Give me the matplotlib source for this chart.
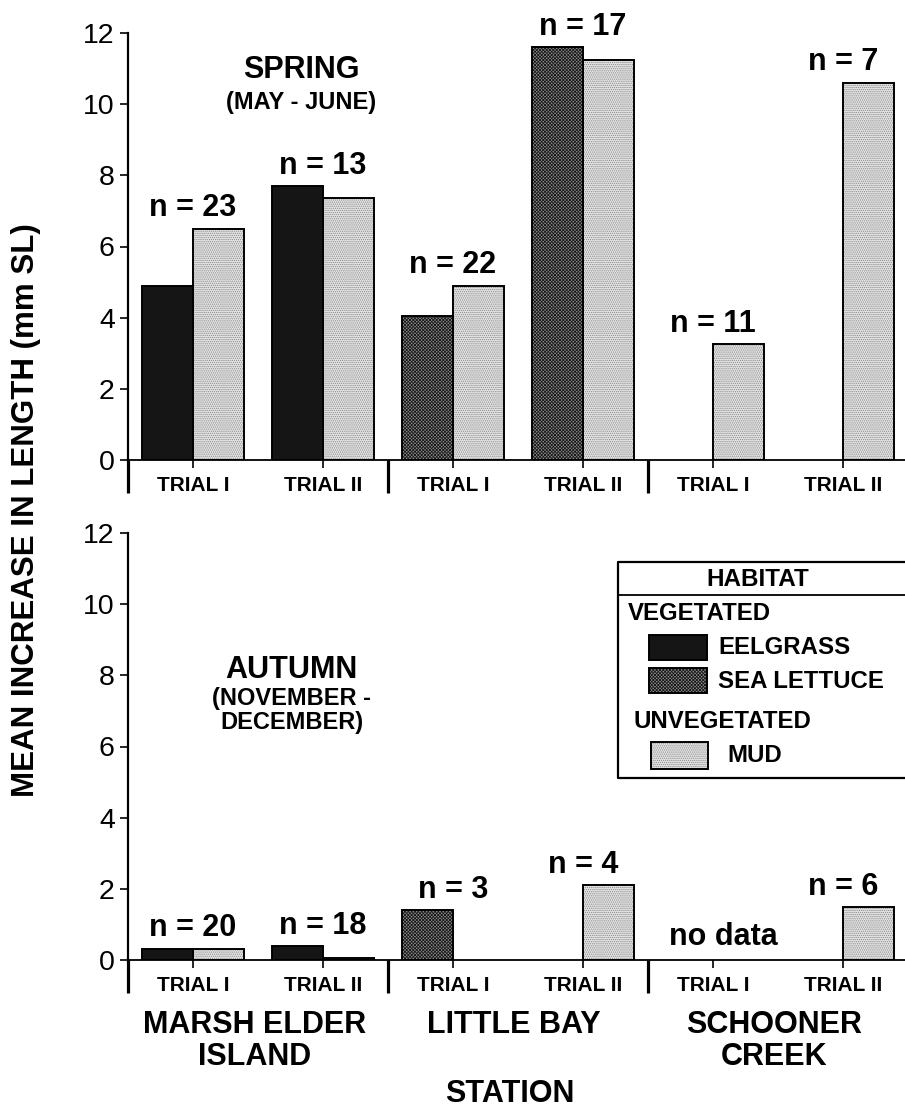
import numpy as np
import matplotlib
matplotlib.use("Agg")
import matplotlib.pyplot as plt
from matplotlib.patches import Rectangle
from matplotlib.transforms import blended_transform_factory

plt.rcParams['font.family'] = ['Liberation Sans', 'DejaVu Sans']
plt.rcParams['hatch.linewidth'] = 0.6

# ---- data -------------------------------------------------------------
stations = ["MARSH ELDER\nISLAND", "LITTLE BAY", "SCHOONER\nCREEK"]
trial_labels = ["TRIAL I", "TRIAL II", "TRIAL I", "TRIAL II", "TRIAL I", "TRIAL II"]
veg_habitat = ["EELGRASS", "EELGRASS", "SEA LETTUCE", "SEA LETTUCE", None, None]

spring_veg = [4.9, 7.7, 4.05, 11.6, np.nan, np.nan]
spring_mud = [6.5, 7.35, 4.9, 11.25, 3.25, 10.6]
spring_n = [23, 13, 22, 17, 11, 7]

autumn_veg = [0.32, 0.38, 1.4, np.nan, np.nan, np.nan]
autumn_mud = [0.32, 0.05, np.nan, 2.1, np.nan, 1.48]
autumn_n = [20, 18, 3, 4, None, 6]

# ---- habitat fills ----------------------------------------------------
STYLE = {
    "EELGRASS": dict(face="#151515", hatch=None, hcolor="#151515"),
    "SEA LETTUCE": dict(face="#8c8c8c", hatch="xxxxxxxxxx", hcolor="#1a1a1a"),
    "MUD": dict(face="#e3e3e3", hatch="........", hcolor="#8a8a8a"),
}

BAR_W = 0.39
BOLD = dict(fontweight="bold")


def draw_bar(ax, x, h, habitat):
    st = STYLE[habitat]
    ax.bar(x, h, BAR_W, color=st["face"], edgecolor=st["hcolor"],
           hatch=st["hatch"], linewidth=0, zorder=2)
    ax.bar(x, h, BAR_W, fill=False, edgecolor="black", linewidth=1.4, zorder=3)


def styled_rect(ax, x, y, w, h, habitat):
    st = STYLE[habitat]
    ax.add_patch(Rectangle((x, y), w, h, facecolor=st["face"], edgecolor=st["hcolor"],
                           hatch=st["hatch"], linewidth=0))
    ax.add_patch(Rectangle((x, y), w, h, fill=False, edgecolor="black", linewidth=1.4))


def draw_panel(ax, veg, mud, n_list):
    x = np.arange(len(trial_labels))
    for i in x:
        if not np.isnan(veg[i]):
            draw_bar(ax, i - BAR_W / 2, veg[i], veg_habitat[i])
        if not np.isnan(mud[i]):
            draw_bar(ax, i + BAR_W / 2, mud[i], "MUD")
        if n_list[i] is not None:
            top = np.nanmax([veg[i], mud[i]])
            ax.annotate(f"n = {n_list[i]}", (i, top), xytext=(0, 9),
                        textcoords="offset points", ha="center", va="baseline",
                        fontsize=22, **BOLD, annotation_clip=False)

    ax.set_xlim(-0.5, 5.477)
    ax.set_ylim(0, 12)
    for s in ("top", "right"):
        ax.spines[s].set_visible(False)
    ax.spines["left"].set_linewidth(1.6)
    ax.spines["bottom"].set_linewidth(1.3)
    ax.set_yticks(range(0, 13, 2))
    ax.tick_params(axis="y", direction="out", length=5.5, width=1.2, pad=4, labelsize=20.5)
    ax.set_xticks(x, trial_labels, fontsize=15, fontweight="bold")
    ax.tick_params(axis="x", which="major", direction="out", length=5.8, width=1.2, pad=6)
    ax.set_xticks([-0.5, 1.5, 3.5], minor=True)
    ax.tick_params(axis="x", which="minor", direction="out", length=24, width=2.3)


fig = plt.figure(figsize=(9.05, 11.1), dpi=100)
W, H = 905.0, 1110.0
ax_top = fig.add_axes([128 / W, 650 / H, 777 / W, 427 / H])
ax_bot = fig.add_axes([128 / W, 150 / H, 777 / W, 427 / H])

draw_panel(ax_top, spring_veg, spring_mud, spring_n)
draw_panel(ax_bot, autumn_veg, autumn_mud, autumn_n)

# season captions
ax_top.text(0.83, 10.96, "SPRING", ha="center", va="center", fontsize=22, **BOLD)
ax_top.text(0.83, 10.06, "(MAY - JUNE)", ha="center", va="center", fontsize=17, **BOLD)
ax_bot.text(0.76, 8.15, "AUTUMN", ha="center", va="center", fontsize=22, **BOLD)
ax_bot.text(0.76, 7.01, "(NOVEMBER -\nDECEMBER)", ha="center", va="center",
            fontsize=17, linespacing=1.05, **BOLD)
ax_bot.text(4.08, 0.42, "no data", ha="center", va="baseline", fontsize=22, **BOLD)

# station names under each pair of trials
trans = blended_transform_factory(ax_bot.transData, fig.transFigure)
for k, name in enumerate(stations):
    ax_bot.text(2 * k + 0.47, 1 - 1010 / H, name, transform=trans, ha="center", va="top",
                fontsize=22, linespacing=1.08, multialignment="center", **BOLD)

fig.text(510 / W, 1 - 1102 / H, "STATION", ha="center", va="baseline", fontsize=22, **BOLD)
fig.text(26 / W, 1 - 510 / H, "MEAN INCREASE IN LENGTH (mm SL)", rotation=90,
         ha="center", va="center", fontsize=22.5, **BOLD)

# habitat key
lax = fig.add_axes([618 / W, (H - 778) / H, 320 / W, 216 / H])
lax.set_xlim(0, 320)
lax.set_ylim(216, 0)
lax.axis("off")
lax.plot([320, 0, 0, 320], [0, 0, 216, 216], color="black", lw=1.6, clip_on=False)
lax.plot([0, 320], [33, 33], color="black", lw=1.3)
lax.text(140, 17, "HABITAT", ha="center", va="center", fontsize=17.5, **BOLD)
lax.text(10, 52, "VEGETATED", ha="left", va="center", fontsize=17.3, **BOLD)
styled_rect(lax, 31, 73, 58, 25, "EELGRASS")
lax.text(100, 86, "EELGRASS", ha="left", va="center", fontsize=17.3, **BOLD)
styled_rect(lax, 31, 106, 58, 25, "SEA LETTUCE")
lax.text(100, 120, "SEA LETTUCE", ha="left", va="center", fontsize=17.3, **BOLD)
lax.text(15, 160, "UNVEGETATED", ha="left", va="center", fontsize=17.3, **BOLD)
styled_rect(lax, 33, 180, 57, 27, "MUD")
lax.text(109, 194, "MUD", ha="left", va="center", fontsize=17.3, **BOLD)

fig.savefig("out.png", dpi=100)
